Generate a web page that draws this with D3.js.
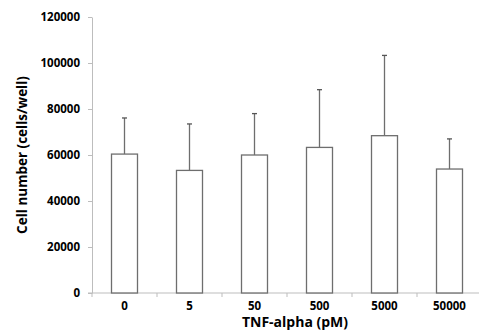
<!DOCTYPE html>
<html>
<head>
<meta charset="utf-8">
<script src="https://cdn.jsdelivr.net/npm/d3@7"></script>
<style>
  body { margin: 0; background: #fff; }
  svg text { font-family: "Open Sans", sans-serif; font-weight: bold; fill: #000; }
</style>
</head>
<body>
<svg id="chart"></svg>
<script>
// data
const doses = ["0", "5", "50", "500", "5000", "50000"];
const cellMeans = [60400, 53300, 60000, 63300, 68400, 53900];
const cellErrors = [15700, 20200, 18000, 25100, 34900, 13100];
const yTicks = [0, 20000, 40000, 60000, 80000, 100000, 120000];

const width = 479, height = 333;
const margin = { top: 17, left: 92, bottom: 40 };
const innerH = 276;

const svg = d3.select("#chart").attr("width", width).attr("height", height);

const x = d3.scaleBand()
    .domain(doses)
    .range([margin.left, margin.left + 65 * doses.length])
    .paddingInner(0.6)
    .paddingOuter(0.3);

const y = d3.scaleLinear()
    .domain([0, 120000])
    .range([margin.top + innerH, margin.top]);

// y axis
const yAxis = svg.append("g")
    .attr("transform", `translate(${margin.left},0)`)
    .call(d3.axisLeft(y).tickValues(yTicks).tickFormat(d3.format("d"))
        .tickSize(4).tickPadding(8).tickSizeOuter(0));
yAxis.select(".domain").attr("stroke", "#bdbdbd");
yAxis.selectAll("line").attr("stroke", "#bdbdbd");
yAxis.selectAll("text").style("font-size", "11.5px");

// x axis: ticks sit at the band boundaries
const step = x.step();
const bounds = d3.range(doses.length + 1).map(i => margin.left + i * step);
const xg = svg.append("g");
xg.append("line")
    .attr("x1", margin.left - 4).attr("x2", width)
    .attr("y1", y(0)).attr("y2", y(0))
    .attr("stroke", "#bdbdbd");
xg.selectAll(".xtick")
    .data(bounds)
    .join("line")
    .attr("class", "xtick")
    .attr("x1", d => d).attr("x2", d => d)
    .attr("y1", y(0)).attr("y2", y(0) + 4)
    .attr("stroke", "#bdbdbd");
xg.selectAll(".xlabel")
    .data(doses)
    .join("text")
    .attr("class", "xlabel")
    .attr("x", d => x(d) + x.bandwidth() / 2)
    .attr("y", y(0) + 17)
    .attr("text-anchor", "middle")
    .style("font-size", "11.5px")
    .text(d => d);

// error bars (drawn behind bars)
const data = doses.map((d, i) => ({ dose: d, mean: cellMeans[i], err: cellErrors[i] }));
const cx = d => x(d.dose) + x.bandwidth() / 2;
svg.selectAll(".err")
    .data(data)
    .join("line")
    .attr("class", "err")
    .attr("x1", cx).attr("x2", cx)
    .attr("y1", d => y(d.mean)).attr("y2", d => y(d.mean + d.err))
    .attr("stroke", "#6e6e6e").attr("stroke-width", 1.3);
svg.selectAll(".cap")
    .data(data)
    .join("line")
    .attr("class", "cap")
    .attr("x1", d => cx(d) - 2.5).attr("x2", d => cx(d) + 2.5)
    .attr("y1", d => y(d.mean + d.err)).attr("y2", d => y(d.mean + d.err))
    .attr("stroke", "#555").attr("stroke-width", 1.3);

// bars
svg.selectAll(".bar")
    .data(data)
    .join("rect")
    .attr("class", "bar")
    .attr("x", d => x(d.dose))
    .attr("y", d => y(d.mean))
    .attr("width", x.bandwidth())
    .attr("height", d => y(0) - y(d.mean))
    .attr("fill", "#fff")
    .attr("stroke", "#6e6e6e")
    .attr("stroke-width", 1.3);

// axis titles
svg.append("text")
    .attr("x", 295)
    .attr("y", 327)
    .attr("text-anchor", "middle")
    .style("font-size", "14px")
    .text("TNF-alpha (pM)");

svg.append("text")
    .attr("transform", `translate(27,${y(60000)}) rotate(-90)`)
    .attr("text-anchor", "middle")
    .style("font-size", "13.5px")
    .text("Cell number (cells/well)");
</script>
</body>
</html>
